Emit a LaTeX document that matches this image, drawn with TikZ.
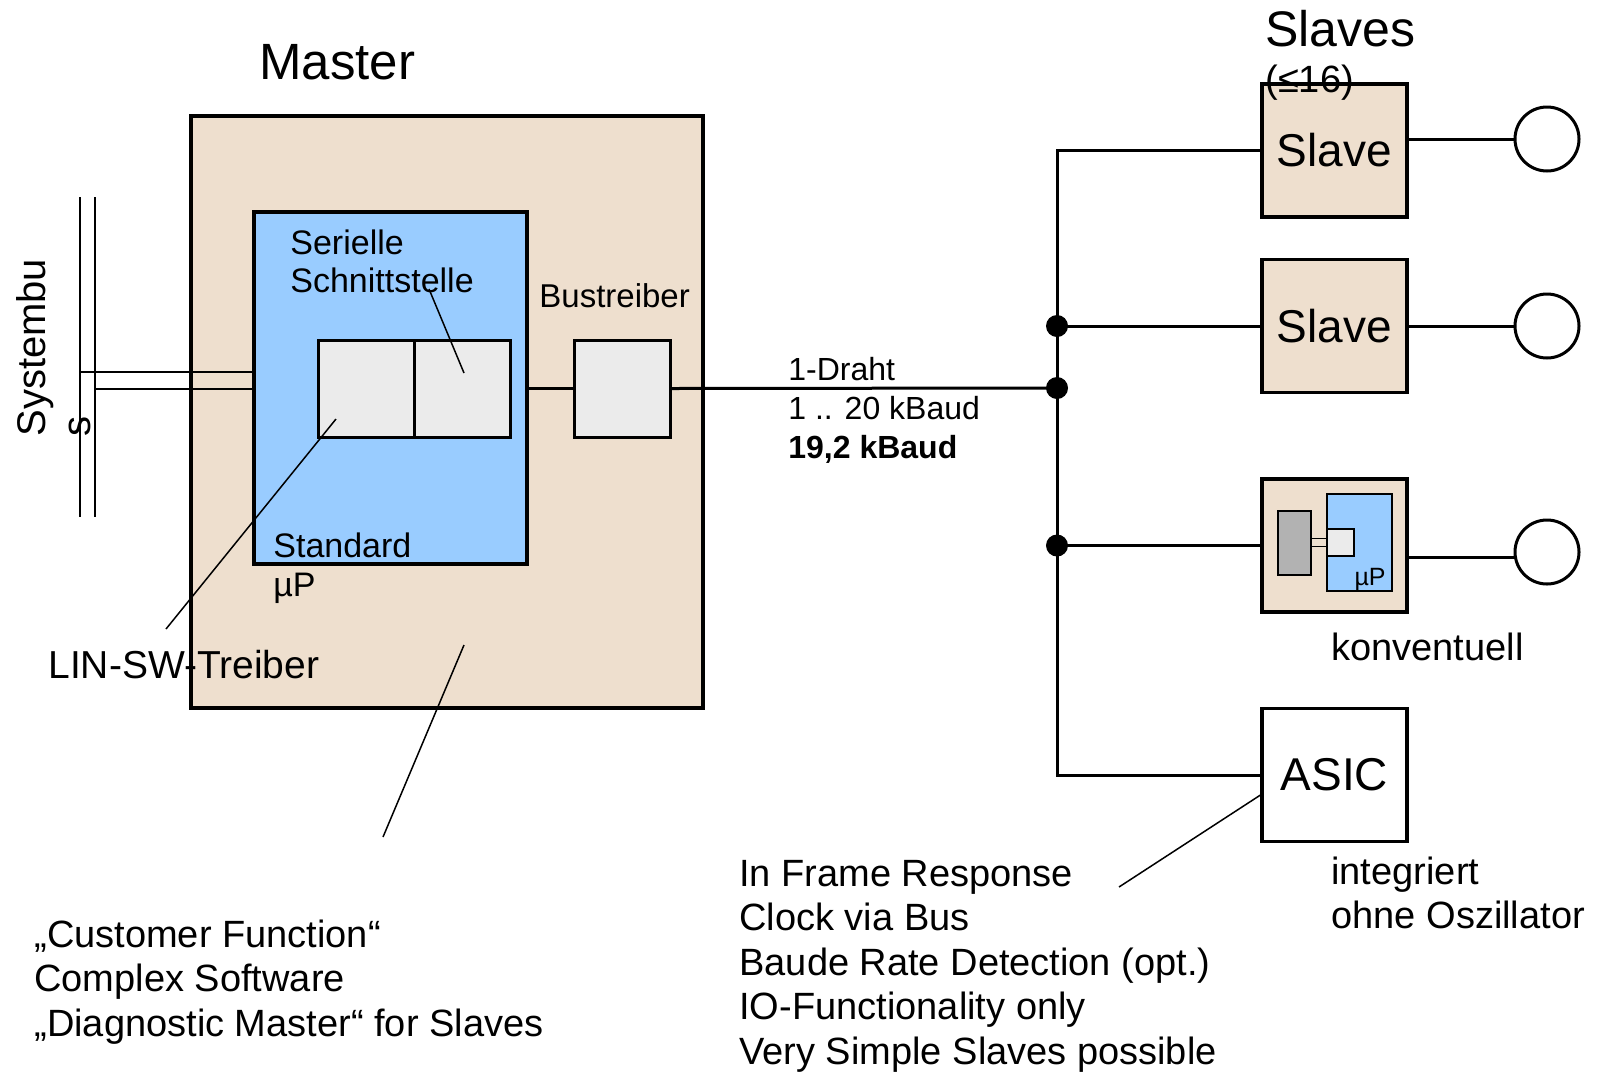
\documentclass[tikz,border=0pt]{standalone}
\usepackage{fontspec}
\setmainfont{Liberation Sans}
\definecolor{beige}{RGB}{238,223,206}
\definecolor{ublue}{RGB}{153,204,255}
\definecolor{lgrey}{RGB}{235,235,235}
\definecolor{dgrey}{RGB}{178,178,178}
\newcommand\fsz[2]{\fontsize{#1}{#2}\selectfont}
\tikzset{
  box/.style={draw, line width=1.75pt, inner sep=0pt},
  ibox/.style={draw, line width=1.5pt, inner sep=0pt},
  sbox/.style={draw, line width=1.2pt, inner sep=0pt},
  wire/.style={line width=1.5pt},
  thinline/.style={line width=0.75pt},
  txt/.style={inner sep=0pt, anchor=base west},
  dot/.style={circle, fill=black, inner sep=0pt, minimum size=11pt},
  ring/.style={circle, draw, line width=1.5pt, fill=white, inner sep=0pt, minimum size=32pt},
  slavebox/.style={box, fill=beige, minimum width=72.5pt, minimum height=66.5pt, font=\fsz{23}{27}},
}
\begin{document}
\begin{tikzpicture}[x=0.5pt,y=-0.5pt]
\useasboundingbox (0,0) rectangle (1600,1072);

% ---------- Master ----------
\node[box, fill=beige, minimum width=256pt, minimum height=296pt] (master) at (447,412) {};
\node[box, fill=ublue, minimum width=136.5pt, minimum height=176pt] (mcu) at (390.5,388) {};
\node[ibox, fill=lgrey, minimum width=48pt, minimum height=48.5pt] (uart1) at (366,388.5) {};
\node[ibox, fill=lgrey, minimum width=48pt, minimum height=48.5pt] (uart2) at (462.5,388.5) {};
\node[ibox, fill=lgrey, minimum width=48pt, minimum height=48.5pt] (drv) at (622.5,388.5) {};
\draw[wire] (mcu.east |- drv.west) -- (drv.west);

\node[txt, font=\fsz{25.5}{30}] (mastert) at (259,79) {Master};
% multi-line nodes: base anchor = baseline of the last line
\node[txt, align=left, font=\fsz{17}{19}] (sert) at (290,292) {Serielle\\Schnittstelle};
\node[txt, font=\fsz{16.5}{19}] (bust) at (539,307) {Bustreiber};
\node[txt, align=left, font=\fsz{17}{19.5}] (stdt) at (273,596) {Standard\\µP};

% ---------- Systembus ----------
\coordinate (sb1t) at (80,197);
\coordinate (sb1b) at (80,517);
\coordinate (sb2t) at (95,197);
\coordinate (sb2b) at (95,517);
\draw[thinline] (sb1t) -- (sb1b);
\draw[thinline] (sb2t) -- (sb2b);
\draw[thinline] (sb1t |- 0,372) -- (mcu.west |- 0,372);
\draw[thinline] (sb2t |- 0,389) -- (mcu.west |- 0,389);
\node[txt, rotate=90, align=left, font=\fsz{20}{22.5}] (sysbus) at (90,437) {Systembu\\s};

% ---------- pointer lines (master side) ----------
\coordinate (p1a) at (429,289);
\coordinate (p1b) at (464,373);
\draw[thinline] (p1a) -- (p1b);
\coordinate (p2a) at (166,629);
\coordinate (p2b) at (336,419);
\draw[thinline] (p2a) -- (p2b);
\coordinate (p3a) at (464,645);
\coordinate (p3b) at (383,837);
\draw[thinline] (p3a) -- (p3b);

\node[txt, font=\fsz{19.5}{23}] (lin) at (48,678) {LIN-SW-Treiber};
\node[txt, align=left, font=\fsz{19}{22.25}] (cust) at (34,1036)
  {„Customer Function“\\Complex Software\\„Diagnostic Master“ for Slaves};

% ---------- Slaves ----------
\node[slavebox] (s1) at (1334.5,150.5) {Slave};
\node[slavebox] (s2) at (1334.5,326) {Slave};
\node[slavebox] (s3) at (1334.5,545.5) {};
\node[slavebox, fill=white] (asic) at (1334.5,775) {ASIC};

\node[txt, font=\fsz{25}{30}] (slavest) at (1265,46) {Slaves};
\node[txt, font=\fsz{19}{22}] (slavesn) at (1265,92) {(≤16)};

% conventional slave internals
\node[sbox, fill=dgrey, minimum width=16.5pt, minimum height=32pt] (tr3) at (1294.5,543) {};
\node[sbox, fill=ublue, minimum width=32.5pt, minimum height=48.5pt] (up3) at (1359.5,542.5) {};
\node[sbox, fill=lgrey, minimum width=13.5pt, minimum height=13.5pt] (ua3) at (1340.5,542.5) {};
\draw[line width=0.6pt, double=beige, double distance=3.4pt] (tr3.east |- ua3.west) -- (ua3.west);
\node[inner sep=0pt, anchor=base east, font=\fsz{12.5}{15}] (up3t) at (1386,585) {µP};

% bus
\node[dot] (d1) at (1057,326) {};
\node[dot] (d2) at (1057,388) {};
\node[dot] (d3) at (1057,545.5) {};
\draw[wire] (drv.east) -- (d2.center);
\draw[wire] (s1.west) -| (d3.center |- asic.west) -- (asic.west);
\draw[wire] (d1.center) -- (s2.west);
\draw[wire] (d3.center) -- (s3.west);

% end devices
\node[ring] (c1) at (1547,139) {};
\node[ring] (c2) at (1547,326) {};
\node[ring] (c3) at (1547,552) {};
\draw[wire] (s1.east |- c1.west) -- (c1.west);
\draw[wire] (s2.east |- c2.west) -- (c2.west);
\draw[wire] (s3.east |- c3.190) -- (c3.190);

\node[txt, align=left, font=\fsz{16}{19.5}] (draht) at (788,458)
  {1-Draht\\1 .. 20 kBaud\\\textbf{19,2 kBaud}};

\node[txt, font=\fsz{19}{22}] (konv) at (1331,660) {konventuell};
\node[txt, align=left, font=\fsz{19}{22}] (integ) at (1331,928) {integriert\\ohne Oszillator};

\coordinate (p4a) at (1262,794);
\coordinate (p4b) at (1119,887);
\draw[thinline] (p4a) -- (p4b);
\node[txt, align=left, font=\fsz{19}{22.25}] (asict) at (739,1064)
  {In Frame Response\\Clock via Bus\\Baude Rate Detection (opt.)\\IO-Functionality only\\Very Simple Slaves possible};
\end{tikzpicture}
\end{document}
